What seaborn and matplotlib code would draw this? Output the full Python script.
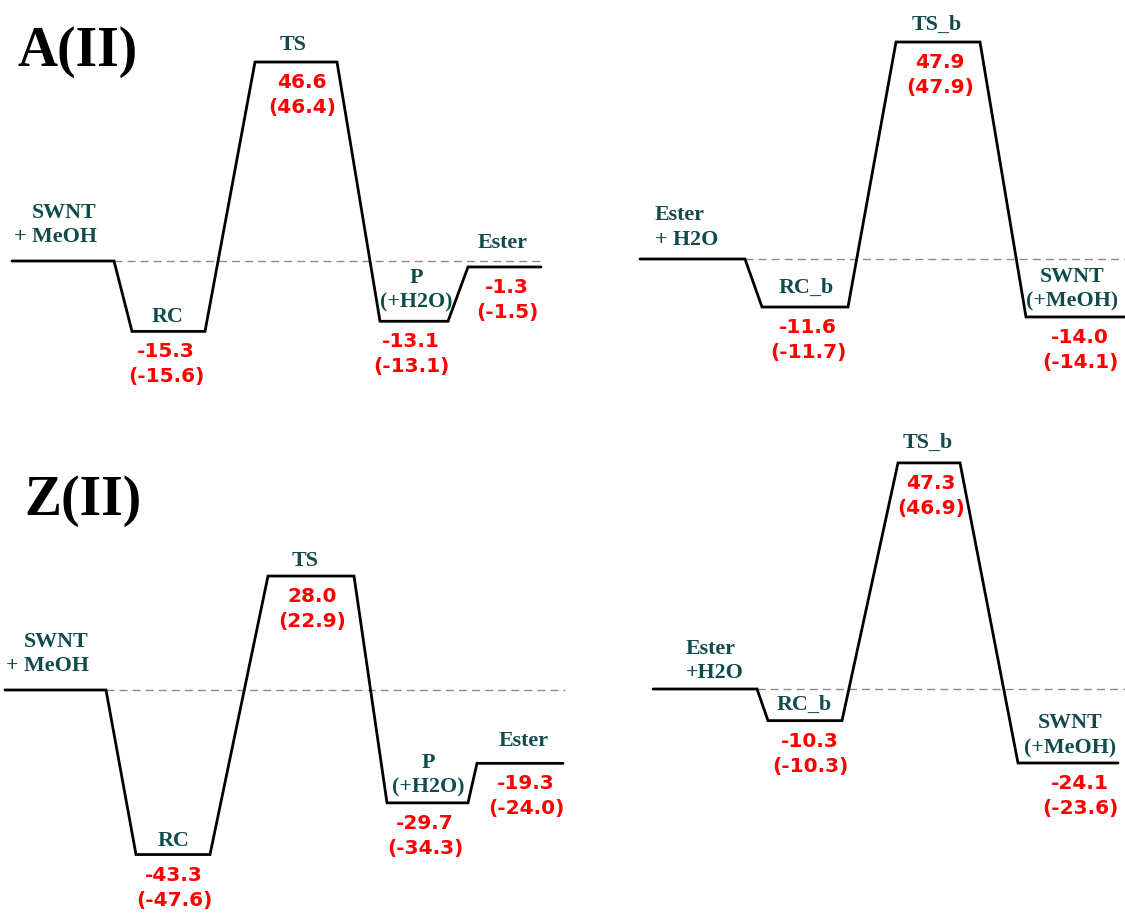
import numpy as np
import pandas as pd
import matplotlib
matplotlib.use("Agg")
import matplotlib.pyplot as plt
import seaborn as sns

# ------------------------------------------------------------------ data
a_states = ["SWNT\n+ MeOH", "RC", "TS", "P\n(+H2O)", "Ester"]
a_energy = [0.0, -15.3, 46.6, -13.1, -1.3]
a_energy_alt = [None, -15.6, 46.4, -13.1, -1.5]

b_states = ["Ester\n+ H2O", "RC_b", "TS_b", "SWNT\n(+MeOH)"]
b_energy = [0.0, -11.6, 47.9, -14.0]
b_energy_alt = [None, -11.7, 47.9, -14.1]

c_states = ["SWNT\n+ MeOH", "RC", "TS", "P\n(+H2O)", "Ester"]
c_energy = [0.0, -43.3, 28.0, -29.7, -19.3]
c_energy_alt = [None, -47.6, 22.9, -34.3, -24.0]

d_states = ["Ester\n+H2O", "RC_b", "TS_b", "SWNT\n(+MeOH)"]
d_energy = [0.0, -10.3, 47.3, -24.1]
d_energy_alt = [None, -10.3, 46.9, -23.6]

titles = ["A(II)", "Z(II)"]

# ------------------------------------------------------------------ layout (pixels / style)
W, H = 1125, 921
layouts = [
    dict(states=a_states, energy=a_energy, alt=a_energy_alt,
         spans=[(12, 114), (132, 205), (255, 337), (380, 448), (468, 541)],
         y0=261, kp=4.27, kn=4.6, dash=(114, 541),
         lab_x=[97, 168, 293, 416, 503], lab_ha=["right", "center", "center", "center", "center"],
         lab_off=[19, 9, 12, 14, 19],
         val_x=[None, 166, 302, 411, 507]),
    dict(states=b_states, energy=b_energy, alt=b_energy_alt,
         spans=[(640, 745), (762, 848), (896, 980), (1026, 1125)],
         y0=259, kp=4.53, kn=4.14, dash=(745, 1125),
         lab_x=[655, 806, 937, 1072], lab_ha=["left", "center", "center", "center"],
         lab_off=[14, 14, 12, 10],
         val_x=[None, 808, 940, 1080]),
    dict(states=c_states, energy=c_energy, alt=c_energy_alt,
         spans=[(5, 106), (136, 210), (268, 354), (387, 468), (477, 563)],
         y0=690, kp=4.07, kn=3.8, dash=(106, 565),
         lab_x=[89, 174, 305, 428, 524], lab_ha=["right", "center", "center", "center", "center"],
         lab_off=[19, 9, 10, 10, 17],
         val_x=[None, 174, 312, 425, 526]),
    dict(states=d_states, energy=d_energy, alt=d_energy_alt,
         spans=[(653, 757), (768, 842), (898, 960), (1018, 1118)],
         y0=689, kp=4.78, kn=3.07, dash=(757, 1125),
         lab_x=[686, 804, 928, 1070], lab_ha=["left", "center", "center", "center"],
         lab_off=[11, 11, 15, 10],
         val_x=[None, 810, 931, 1080]),
]
title_pos = [(18, 66), (24, 515)]

LABEL_COLOR = "#124b4b"
VALUE_COLOR = "#ff0000"
LINE_PX = 24.5

sns.set_theme(style="white")
plt.rcParams["font.family"] = ["DejaVu Sans"]

fig = plt.figure(figsize=(W / 100, H / 100), dpi=100)
fig.patch.set_facecolor("white")


def make_scale(kp, kn):
    def fwd(v):
        v = np.asarray(v, dtype=float)
        return np.where(v >= 0, v * kp, v * kn)

    def inv(v):
        v = np.asarray(v, dtype=float)
        return np.where(v >= 0, v / kp, v / kn)
    return fwd, inv


for L in layouts:
    ax = fig.add_axes([0, 0, 1, 1])
    ax.set_facecolor("none")
    ax.set_yscale("function", functions=make_scale(L["kp"], L["kn"]))
    ax.set_xlim(0, W)
    ax.set_ylim(-(H - L["y0"]) / L["kn"], L["y0"] / L["kp"])

    rows = []
    for i, ((x0, x1), e) in enumerate(zip(L["spans"], L["energy"])):
        rows.append(dict(order=2 * i, x=x0, E=e))
        rows.append(dict(order=2 * i + 1, x=x1, E=e))
    df = pd.DataFrame(rows)

    ax.plot(L["dash"], [0, 0], color="#8c8c8c", lw=1.0, ls=(0, (5.8, 3.6)), zorder=1)
    sns.lineplot(data=df, x="x", y="E", sort=False, estimator=None, color="black",
                 lw=2.0, ax=ax, legend=False, solid_joinstyle="miter", zorder=2)

    for s, e, alt, lx, ha, off, vx in zip(L["states"], L["energy"], L["alt"],
                                          L["lab_x"], L["lab_ha"], L["lab_off"], L["val_x"]):
        lines = s.split("\n")
        for j, line in enumerate(reversed(lines)):
            ax.annotate(line, xy=(lx, e), xytext=(0, off + j * LINE_PX),
                        textcoords="offset pixels", ha=ha, va="baseline",
                        fontsize=15.8, fontweight="bold", color=LABEL_COLOR,
                        family=["Liberation Serif", "DejaVu Serif"])
        if alt is not None:
            ax.annotate(f"{e:.1f}", xy=(vx, e), xytext=(0, -26),
                        textcoords="offset pixels", ha="center", va="baseline",
                        fontsize=14.5, fontweight="bold", color=VALUE_COLOR,
                        family=["DejaVu Sans"])
            ax.annotate(f"({alt:.1f})", xy=(vx, e), xytext=(0, -26 - 25),
                        textcoords="offset pixels", ha="center", va="baseline",
                        fontsize=14.5, fontweight="bold", color=VALUE_COLOR,
                        family=["DejaVu Sans"])
    ax.axis("off")

for t, (tx, ty) in zip(titles, title_pos):
    fig.text(tx / W, 1 - ty / H, t, ha="left", va="baseline", fontsize=40,
             fontweight="bold", color="black", family=["Liberation Serif", "DejaVu Serif"])

fig.savefig("out.png", dpi=100, facecolor="white")
